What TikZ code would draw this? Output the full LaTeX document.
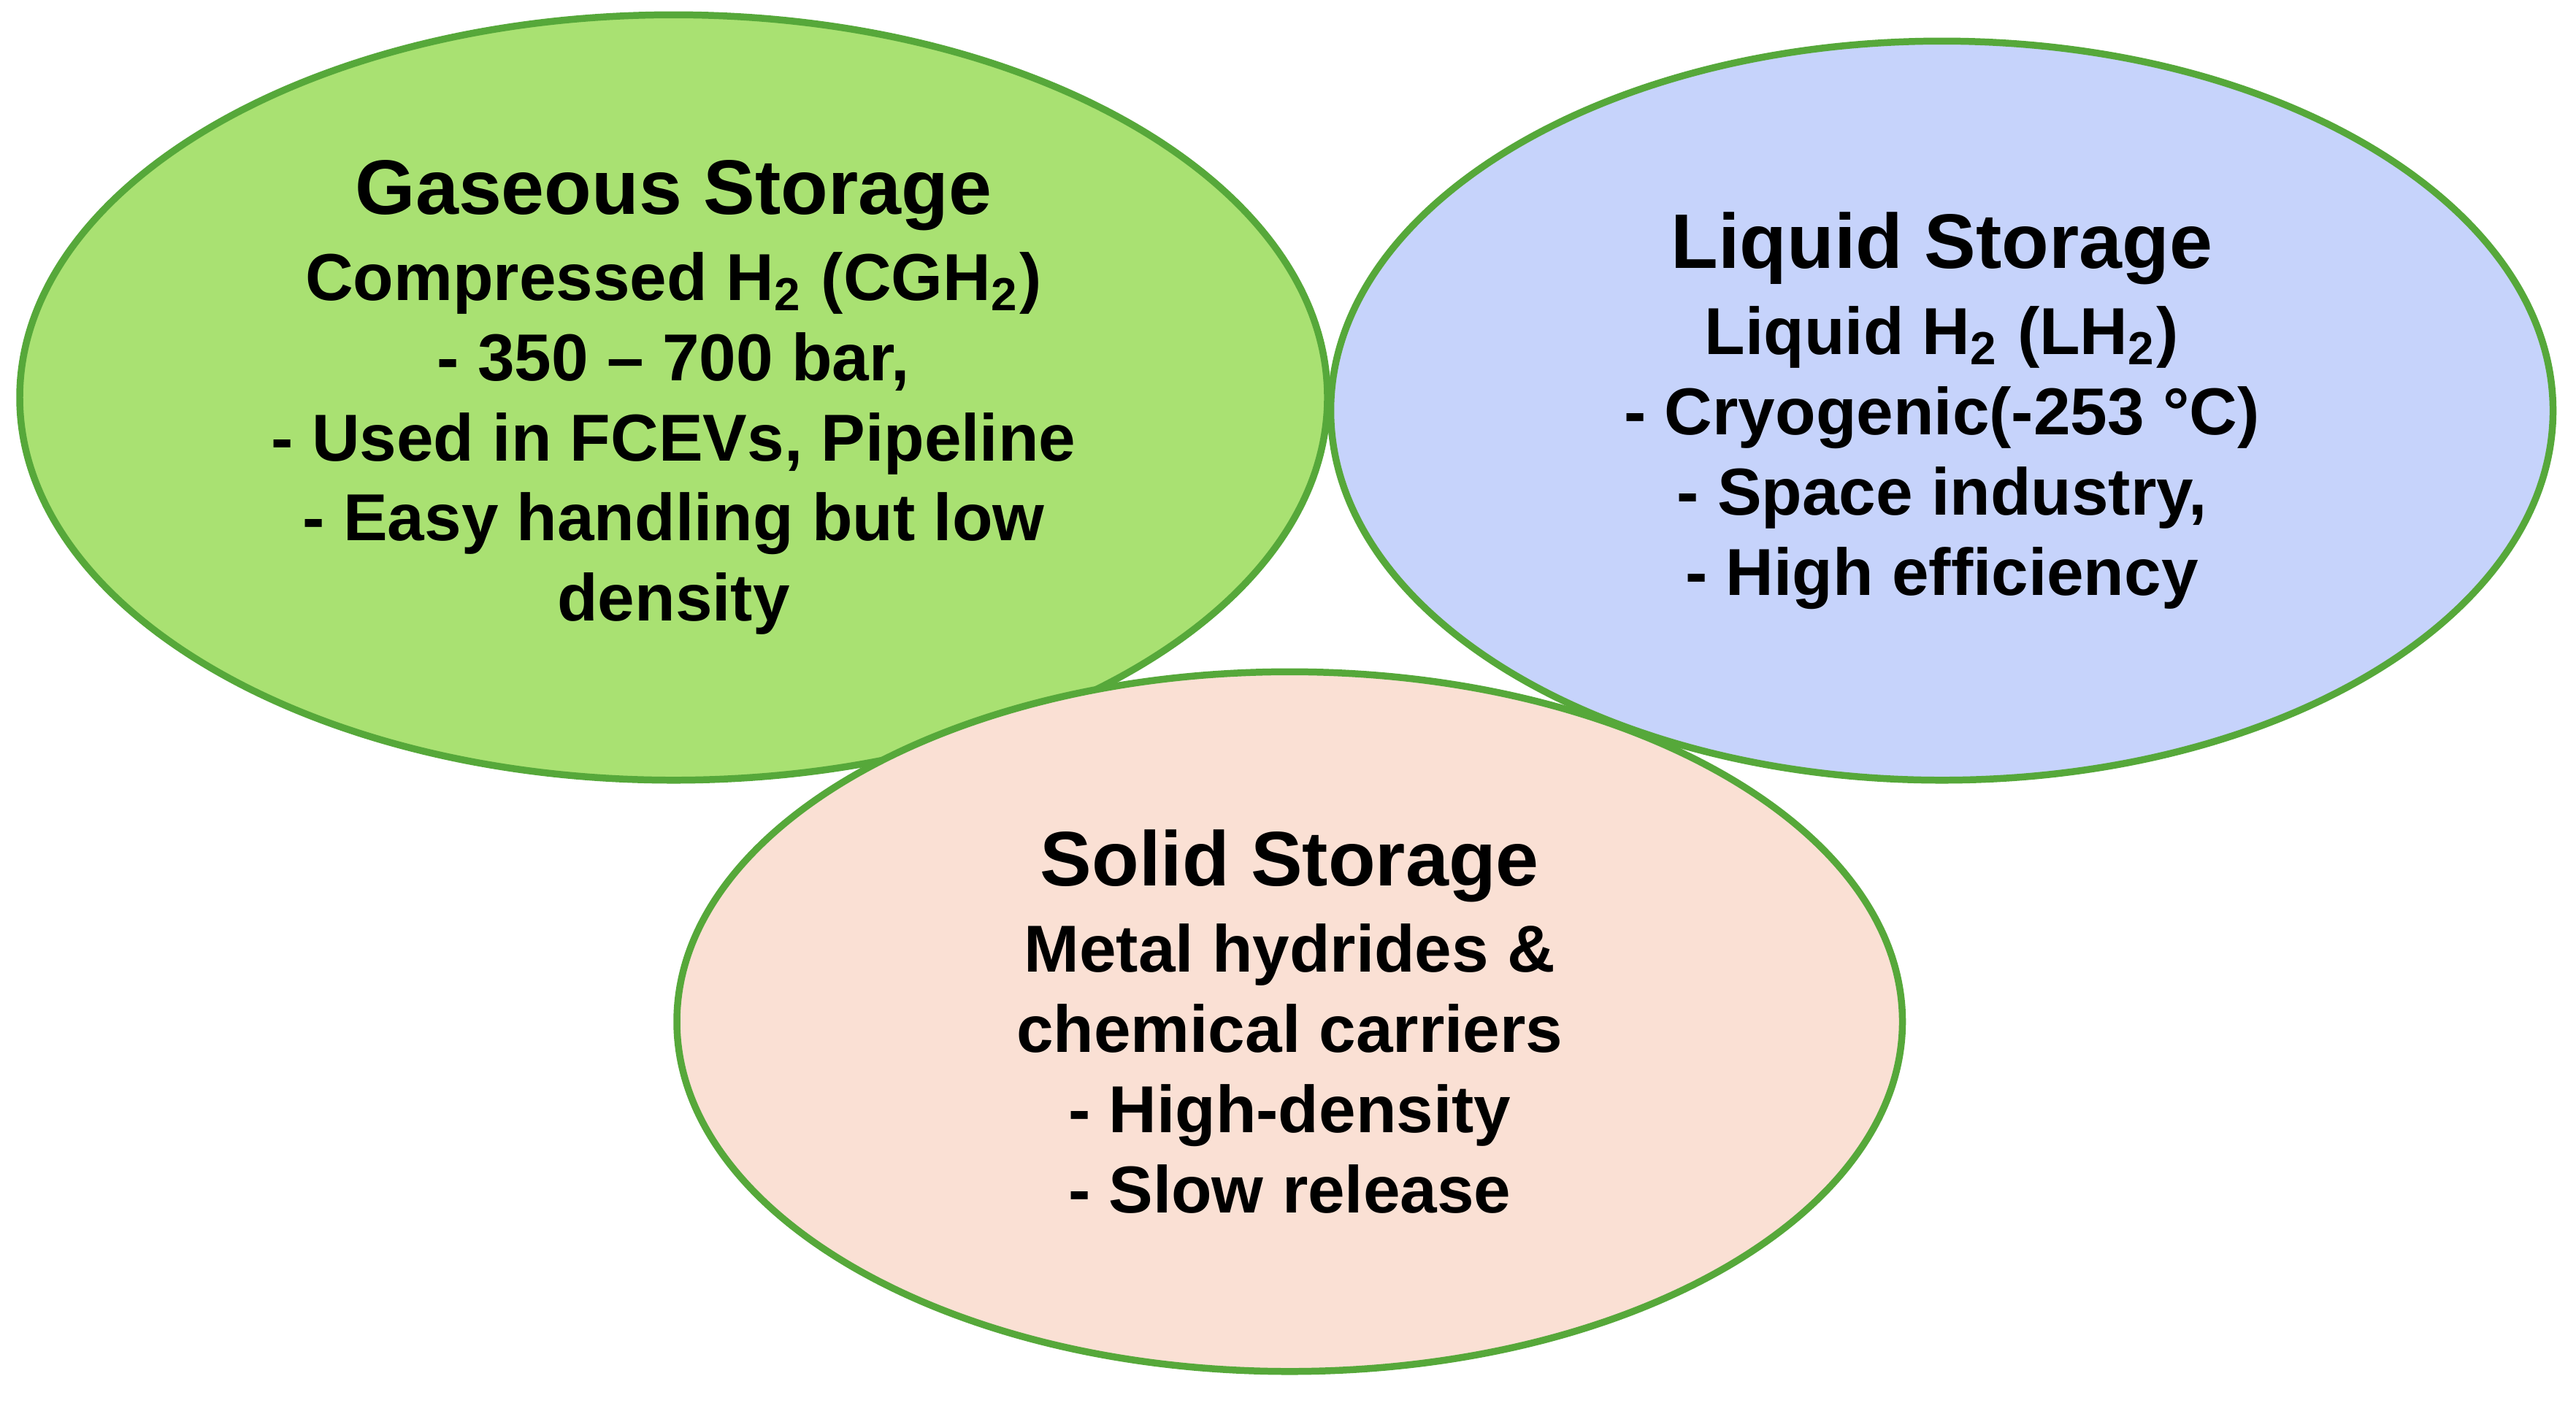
\documentclass[tikz,border=0pt]{standalone}
\usepackage{fontspec}
\setmainfont{Liberation Sans}
\usetikzlibrary{shapes.geometric, positioning}
\definecolor{gasfill}{RGB}{169,225,114}
\definecolor{liqfill}{RGB}{198,211,251}
\definecolor{solfill}{RGB}{250,224,212}
\definecolor{rimgreen}{RGB}{86,168,58}

\begin{document}
\begin{tikzpicture}[
    x=1cm, y=1cm,
    store/.style={ellipse, draw=rimgreen, line width=1.2pt, inner sep=0pt,
        align=center, font=\fontsize{11.5}{13.9}\selectfont\bfseries},
]
\useasboundingbox (0,0) rectangle (15.68,-8.54);

% === STORAGE TYPES ===
\node[store, fill=gasfill, minimum width=7.96cm, minimum height=4.66cm]
    (gas) at (4.10,-2.42) {{\fontsize{13.4}{15}\selectfont Gaseous Storage}\\[1pt]
    Compressed H\textsubscript{2} (CGH\textsubscript{2})\\
    - 350 -- 700 bar,\\
    - Used in FCEVs, Pipeline\\
    - Easy handling but low\\
    density};
\node[store, fill=liqfill, minimum width=7.44cm, minimum height=4.50cm]
    (liq) at (11.82,-2.50) {{\fontsize{13.4}{15}\selectfont Liquid Storage}\\[1pt]
    Liquid H\textsubscript{2} (LH\textsubscript{2})\\
    - Cryogenic(-253 °C)\\
    - Space industry,\\
    - High efficiency};
\node[store, fill=solfill, minimum width=7.46cm, minimum height=4.26cm]
    (sol) at (7.85,-6.22) {{\fontsize{13.4}{15}\selectfont Solid Storage}\\[1pt]
    Metal hydrides \&\\
    chemical carriers\\
    - High-density\\
    - Slow release};

\end{tikzpicture}
\end{document}
